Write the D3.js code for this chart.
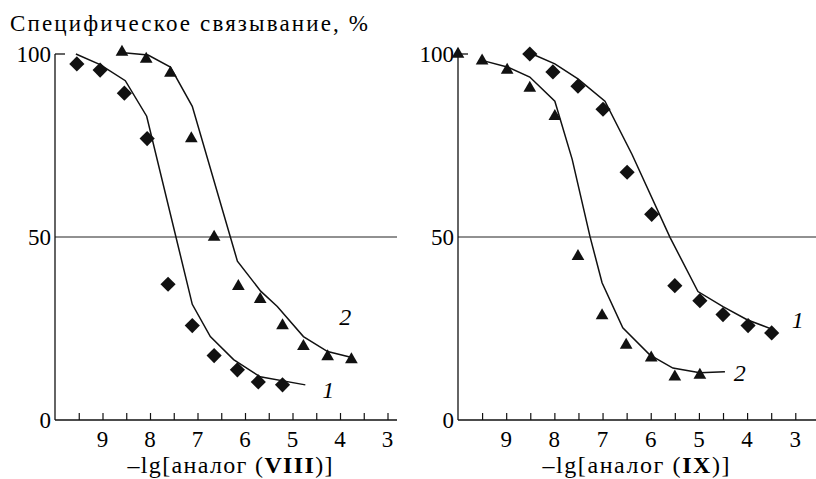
<!DOCTYPE html>
<html>
<head>
<meta charset="utf-8">
<script src="https://cdn.jsdelivr.net/npm/d3@7"></script>
<style>
  body { margin: 0; background: #fff; }
</style>
</head>
<body>
<svg id="chart" width="816" height="479"></svg>
<script>
// x ticks (every half unit), labelled at whole units
const xTicks = [9.5, 9, 8.5, 8, 7.5, 7, 6.5, 6, 5.5, 5, 4.5, 4, 3.5, 3];
const xTickLabels = [9, 8, 7, 6, 5, 4, 3];
const yTickLabels = [0, 50, 100];

// left panel, analog VIII
const leftDiamondX = [9.54, 9.05, 8.54, 8.06, 7.62, 7.11, 6.65, 6.16, 5.72, 5.21];
const leftDiamondY = [97.3, 95.6, 89.3, 76.9, 37.1, 25.8, 17.6, 13.7, 10.4, 9.6];
const leftTriangleX = [8.59, 8.08, 7.57, 7.13, 6.65, 6.14, 5.68, 5.21, 4.77, 4.26, 3.76];
const leftTriangleY = [100.5, 98.6, 94.8, 76.9, 50, 36.5, 33.0, 25.8, 20.1, 17.3, 16.5];
const leftCurve1X = [9.56, 9.05, 8.52, 8.07, 7.11, 6.73, 6.24, 5.68, 4.73];
const leftCurve1Y = [100, 97.1, 92.7, 83.0, 31.6, 22.8, 16.5, 11.8, 9.6];
const leftCurve2X = [8.67, 8.04, 7.57, 7.11, 6.16, 5.67, 5.32, 4.77, 4.26, 3.73];
const leftCurve2Y = [100.5, 99.7, 96.4, 85.7, 43.4, 35.2, 31.0, 22.8, 18.7, 17.0];

// right panel, analog IX
const rightDiamondX = [8.51, 8.03, 7.51, 6.99, 6.49, 5.98, 5.50, 4.98, 4.50, 3.98, 3.49];
const rightDiamondY = [100, 95.1, 91.2, 84.9, 67.7, 56.2, 36.7, 32.6, 28.8, 25.8, 23.8];
const rightTriangleX = [10.0, 9.50, 8.98, 8.51, 7.99, 7.51, 7.01, 6.51, 5.99, 5.50, 4.98];
const rightTriangleY = [100, 98.1, 95.6, 90.7, 83.0, 44.7, 28.5, 20.5, 17.0, 11.8, 12.3];
const rightCurve1X = [8.46, 7.99, 7.51, 6.95, 6.39, 5.60, 5.02, 4.50, 4.0, 3.46];
const rightCurve1Y = [100, 97.3, 93.2, 87.1, 72.6, 49.9, 35.1, 31.0, 27.4, 24.7];
const rightCurve2X = [9.54, 8.96, 8.51, 7.99, 7.63, 7.26, 7.01, 6.58, 6.02, 5.54, 4.98, 4.46];
const rightCurve2Y = [98.4, 96.4, 93.7, 87.1, 71.2, 50.1, 37.5, 25.2, 17.8, 14.2, 12.9, 13.2];

const zip = (xs, ys) => xs.map((x, i) => ({ x, y: ys[i] }));

const panels = [
  {
    range: [55, 397], domain: [10, 2.8], roman: "VIII", labelX: 230, labelLen: 205,
    diamonds: zip(leftDiamondX, leftDiamondY),
    triangles: zip(leftTriangleX, leftTriangleY),
    curves: [zip(leftCurve1X, leftCurve1Y), zip(leftCurve2X, leftCurve2Y)],
    notes: [{ t: "2", x: 3.89, y: 26 }, { t: "1", x: 4.25, y: 6 }]
  },
  {
    range: [458, 816], domain: [10, 2.57], roman: "IX", labelX: 636, labelLen: 187,
    diamonds: zip(rightDiamondX, rightDiamondY),
    triangles: zip(rightTriangleX, rightTriangleY),
    curves: [zip(rightCurve1X, rightCurve1Y), zip(rightCurve2X, rightCurve2Y)],
    notes: [{ t: "1", x: 2.95, y: 25.1 }, { t: "2", x: 4.15, y: 10.7 }]
  }
];

const FONT = "Liberation Serif";
const svg = d3.select("#chart");
const y = d3.scaleLinear().domain([0, 100]).range([420, 54]);

svg.append("text")
  .attr("x", 10).attr("y", 31)
  .attr("font-family", FONT)
  .attr("font-size", 23)
  .attr("textLength", 358)
  .text("Специфическое связывание, %");

panels.forEach(p => {
  const x = d3.scaleLinear().domain(p.domain).range(p.range);
  const g = svg.append("g");
  const x0 = p.range[0], x1 = p.range[1];

  // 50% reference line
  g.append("line")
    .attr("x1", x0).attr("x2", x1)
    .attr("y1", y(50)).attr("y2", y(50))
    .attr("stroke", "#222").attr("stroke-width", 1);

  // y axis with inner tick at 100
  g.append("line")
    .attr("x1", x0).attr("x2", x0)
    .attr("y1", y(100)).attr("y2", y(0))
    .attr("stroke", "#111").attr("stroke-width", 1.3);
  g.append("line")
    .attr("x1", x0).attr("x2", x0 + 10)
    .attr("y1", y(100)).attr("y2", y(100))
    .attr("stroke", "#111").attr("stroke-width", 1.3);

  g.selectAll(".ylab").data(yTickLabels).join("text")
    .attr("x", x0 - 4)
    .attr("y", d => y(d) + 8)
    .attr("text-anchor", "end")
    .attr("font-family", FONT)
    .attr("font-size", 23)
    .text(d => d);

  // x axis, ticks pointing inward
  const xAxis = d3.axisTop(x).tickValues(xTicks).tickSize(7).tickFormat("").tickSizeOuter(0);
  const ax = g.append("g").attr("transform", `translate(0,${y(0)})`).call(xAxis);
  ax.select(".domain").attr("d", `M${x0},0H${x1}`).attr("stroke", "#111").attr("stroke-width", 1.3);
  ax.selectAll(".tick line").attr("stroke", "#111").attr("stroke-width", 1.2);

  g.selectAll(".xlab").data(xTickLabels).join("text")
    .attr("x", d => x(d))
    .attr("y", 447)
    .attr("text-anchor", "middle")
    .attr("font-family", FONT)
    .attr("font-size", 23)
    .text(d => d);

  const lab = g.append("text")
    .attr("x", p.labelX).attr("y", 473)
    .attr("text-anchor", "middle")
    .attr("font-family", FONT)
    .attr("font-size", 24)
    .attr("textLength", p.labelLen);
  lab.append("tspan").text("–lg[аналог (");
  lab.append("tspan").attr("font-weight", "bold").text(p.roman);
  lab.append("tspan").text(")]");

  // fitted curves
  const line = d3.line().x(d => x(d.x)).y(d => y(d.y));
  g.selectAll(".curve").data(p.curves).join("path")
    .attr("d", line)
    .attr("fill", "none")
    .attr("stroke", "#111")
    .attr("stroke-width", 1.5);

  // markers
  g.selectAll(".dia").data(p.diamonds).join("path")
    .attr("d", d3.symbol(d3.symbolSquare, 115))
    .attr("transform", d => `translate(${x(d.x)},${y(d.y)}) rotate(45)`)
    .attr("fill", "#111");

  g.selectAll(".tri").data(p.triangles).join("path")
    .attr("d", d3.symbol(d3.symbolTriangle, 70))
    .attr("transform", d => `translate(${x(d.x)},${y(d.y)})`)
    .attr("fill", "#111");

  g.selectAll(".note").data(p.notes).join("text")
    .attr("x", d => x(d.x))
    .attr("y", d => y(d.y))
    .attr("text-anchor", "middle")
    .attr("font-family", FONT)
    .attr("font-size", 24)
    .attr("font-style", "italic")
    .text(d => d.t);
});
</script>
</body>
</html>
